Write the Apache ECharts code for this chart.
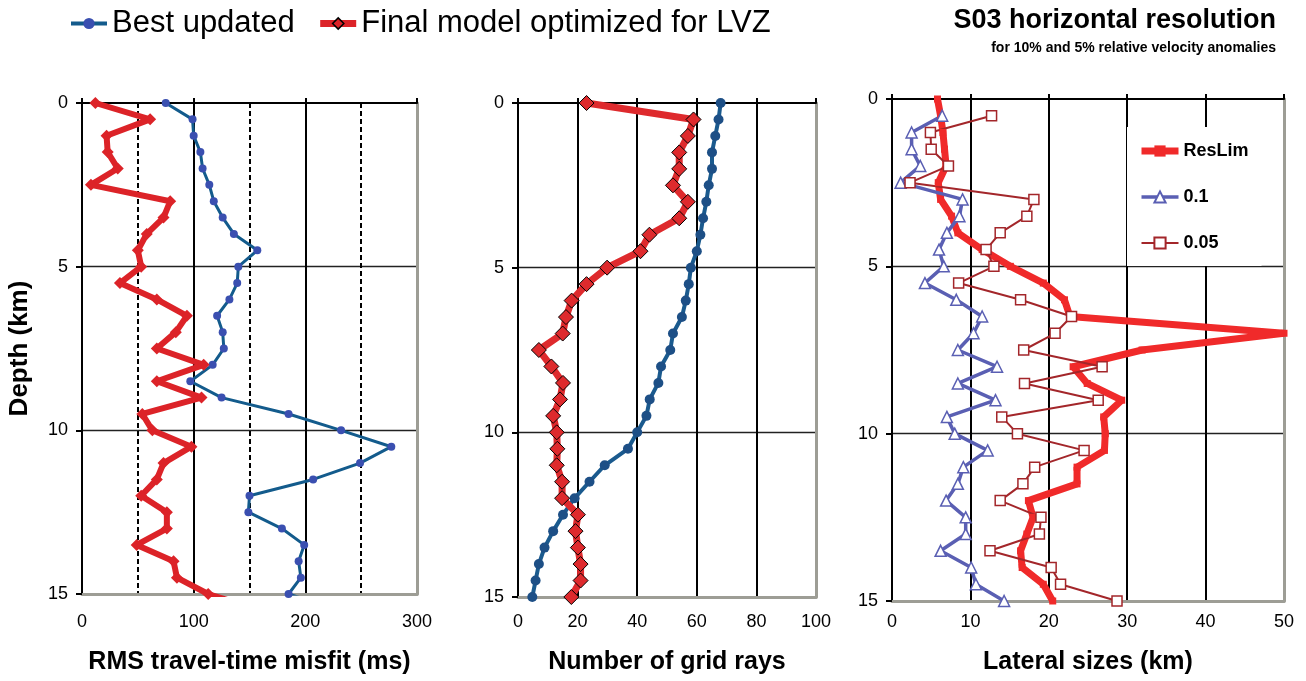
<!DOCTYPE html>
<html><head><meta charset="utf-8">
<script src="https://cdn.jsdelivr.net/npm/echarts@6/dist/echarts.min.js"></script>
<style>html,body{margin:0;padding:0;background:#fff}#c{width:1306px;height:681px}</style>
</head><body><div id="c"></div>
<script>
// ---------- data ----------
const depthKm = [0,0.5,1,1.5,2,2.5,3,3.5,4,4.5,5,5.5,6,6.5,7,7.5,8,8.5,9,9.5,10,10.5,11,11.5,12,12.5,13,13.5,14,14.5,15];
const depthKmRes = [0.5,1,1.5,2,2.5,3,3.5,4,4.5,5,5.5,6,6.5,7,7.5,8,8.5,9,9.5,10,10.5,11,11.5,12,12.5,13,13.5,14,14.5,15];
// points just below the axis bottom (clipped), panel 1
const tailDepth = 15.5;
const rmsBestTail = 230;
const rmsFinalTail = 160;

const rmsBest  = [75,99,100,106,108,114,118,126,136,157,140,139,132,121,126,127,117,97,125,185,232,277,249,207,150,149,179,199,194,196,185];
const rmsFinal = [12,61,22,23,32,8,79,73,58,50,53,34,67,94,84,67,109,67,107,54,63,98,73,67,53,76,76,49,82,85,113];

const raysBest  = [68,67.3,66.2,65.1,65.1,64,63.2,62.1,61.2,60,58,57.3,56.3,55,52,51.1,48,47.1,44.2,43.1,40,36.9,29.1,24,19,15.1,11.8,8.9,7,5.9,4.8];
const raysFinal = [23,58.9,57,54.1,54.1,52,57,54.1,44.1,41.1,29.9,23,18,16.1,15,7,11.2,15.1,14.1,11.8,13,13.2,13,14.8,14.8,20.1,19.3,20.1,21,21,17.9];

const resLim = [5.8,6.2,6.5,6.7,6.9,5.9,6.2,7.6,8.4,11.5,15.1,19.3,22,22.7,50,31.9,23.1,24.9,29.3,27,27.2,27.1,23.6,23.6,17.4,18,17.2,16.4,16.6,19.3,20.5];
const res01  = [6.4,2.5,2.5,3.6,1.1,9,8.6,7,6,6.6,4.2,8.2,11.5,10.4,8.4,13.4,8.4,13.2,7,8,12.2,9.1,8.4,6.9,9.4,9.4,6.2,10.1,10.7,14.3];
const res005 = [12.7,4.9,5,7.2,2.3,18.1,17.2,13.8,12,13,8.5,16.4,22.9,20.8,16.8,26.8,16.9,26.3,14,16,24.5,18.2,16.7,13.8,19,18.8,12.5,20.3,21.5,28.7];

const xTicksRms = [0,300,100];
const xTicksRays = [0,100,20];
const xTicksLat = [0,50,10];
const yTicksDepth = [0,15,5];

const legendTop = ['Best updated','Final model optimized for LVZ'];
const legendRes = ['ResLim','0.1','0.05'];
const axisTitles = ['RMS travel-time misfit (ms)','Number of grid rays','Lateral sizes (km)','Depth (km)'];
const titleText = 'S03 horizontal resolution';
const subtitleText = 'for 10% and 5% relative velocity anomalies';

// ---------- helpers ----------
const FONT = "'Liberation Sans', Arial, sans-serif";
const pairs = (xs, ds) => ds.map((d, i) => [xs[i], d]);
const GREY = '#9d9d95';

function topAxis(grid, t) {
  return {
    type: 'value', gridIndex: grid, position: 'top', min: t[0], max: t[1], interval: t[2],
    axisLine: { show: true, onZero: false, lineStyle: { color: '#000', width: 2 } },
    axisTick: { show: true, length: 5, lineStyle: { color: '#000', width: 2 } },
    axisLabel: { show: false },
    splitLine: { show: true, showMinLine: false, showMaxLine: false,
      lineStyle: { color: '#000', width: 2 } }
  };
}
function dashAxis(grid, min, max, interval) {
  return {
    type: 'value', gridIndex: grid, position: 'top', min: min, max: max, interval: interval,
    axisLine: { show: false, onZero: false }, axisTick: { show: false }, axisLabel: { show: false },
    splitLine: { show: true, showMinLine: false, showMaxLine: false,
      lineStyle: { color: '#000', width: 2, type: [5, 3] } }
  };
}
function bottomAxis(grid, t, name, margin, gap) {
  return {
    type: 'value', gridIndex: grid, position: 'bottom', min: t[0], max: t[1], interval: t[2],
    axisLine: { show: true, onZero: false, lineStyle: { color: GREY, width: 3 } },
    axisTick: { show: false },
    axisLabel: { show: true, margin: margin, color: '#000', fontSize: 18, fontFamily: FONT },
    splitLine: { show: false },
    name: name, nameLocation: 'middle', nameGap: gap,
    nameTextStyle: { color: '#000', fontSize: 25, fontWeight: 'bold', fontFamily: FONT }
  };
}
function leftAxis(grid, name) {
  const a = {
    type: 'value', gridIndex: grid, position: 'left', inverse: true,
    min: yTicksDepth[0], max: yTicksDepth[1], interval: yTicksDepth[2],
    axisLine: { show: true, onZero: false, lineStyle: { color: '#000', width: 2 } },
    axisTick: { show: true, length: 6, lineStyle: { color: '#000', width: 2 } },
    axisLabel: { show: true, margin: 14, color: '#000', fontSize: 18, fontFamily: FONT },
    splitLine: { show: true, showMinLine: false, showMaxLine: false,
      lineStyle: { color: '#222', width: 1.3 } }
  };
  if (name) {
    a.name = name; a.nameLocation = 'middle'; a.nameGap = 49;
    a.nameTextStyle = { color: '#000', fontSize: 26, fontWeight: 'bold', fontFamily: FONT };
  }
  return a;
}
function rightAxis(grid) {
  return {
    type: 'value', gridIndex: grid, position: 'right', inverse: true,
    min: yTicksDepth[0], max: yTicksDepth[1], interval: yTicksDepth[2],
    axisLine: { show: true, onZero: false, lineStyle: { color: GREY, width: 3 } },
    axisTick: { show: false }, axisLabel: { show: false }, splitLine: { show: false }
  };
}

const chart = echarts.init(document.getElementById('c'), null, { renderer: 'canvas' });
chart.setOption({
  animation: false,
  backgroundColor: '#fff',
  textStyle: { fontFamily: FONT },
  title: {
    text: titleText, subtext: subtitleText, left: 1276, top: 7, itemGap: 7,
    textAlign: 'right', padding: 0,
    textStyle: { color: '#000', fontSize: 27, fontWeight: 'bold', fontFamily: FONT },
    subtextStyle: { color: '#000', fontSize: 14, fontWeight: 'bold', fontFamily: FONT }
  },
  legend: [
    {
      data: [
        { name: legendTop[0], lineStyle: { width: 4, color: '#135b8c' } },
        { name: legendTop[1], lineStyle: { width: 7, color: '#dc2328' },
          itemStyle: { borderColor: '#000', borderWidth: 1.5 } }
      ],
      left: 69, top: 8, padding: 0, itemWidth: 36, itemHeight: 14, itemGap: 22,
      textStyle: { color: '#000', fontSize: 31, fontFamily: FONT }
    },
    {
      data: [
        { name: legendRes[0], lineStyle: { width: 7 } },
        { name: legendRes[1], lineStyle: { width: 3.5 } },
        { name: legendRes[2], lineStyle: { width: 2 } }
      ],
      orient: 'vertical', left: 1127, top: 127,
      padding: [15, 13, 14, 11], itemGap: 28, itemWidth: 37, itemHeight: 14,
      backgroundColor: '#fff',
      textStyle: { color: '#000', fontSize: 18, fontWeight: 'bold', fontFamily: FONT }
    }
  ],
  grid: [
    { left: 82, top: 103, width: 335, height: 491, outerBoundsMode: 'none', containLabel: false },
    { left: 518, top: 103, width: 298, height: 494, outerBoundsMode: 'none', containLabel: false },
    { left: 892, top: 99, width: 392, height: 502, outerBoundsMode: 'none', containLabel: false }
  ],
  xAxis: [
    topAxis(0, xTicksRms),
    bottomAxis(0, xTicksRms, axisTitles[0], 19, 56),
    dashAxis(0, xTicksRms[0], xTicksRms[1], xTicksRms[2] / 2),
    topAxis(1, xTicksRays),
    bottomAxis(1, xTicksRays, axisTitles[1], 16, 53),
    topAxis(2, xTicksLat),
    bottomAxis(2, xTicksLat, axisTitles[2], 12, 49)
  ],
  yAxis: [
    leftAxis(0, axisTitles[3]), rightAxis(0),
    leftAxis(1), rightAxis(1),
    leftAxis(2), rightAxis(2)
  ],
  series: [
    {
      name: legendTop[0], type: 'line', xAxisIndex: 0, yAxisIndex: 0,
      data: pairs(rmsBest, depthKm).concat([[rmsBestTail, tailDepth]]),
      lineStyle: { color: '#135b8c', width: 3 },
      symbol: 'circle', symbolSize: 8,
      itemStyle: { color: '#3a4fb0' }
    },
    {
      name: legendTop[1], type: 'line', xAxisIndex: 0, yAxisIndex: 0,
      data: pairs(rmsFinal, depthKm).concat([[rmsFinalTail, tailDepth]]),
      lineStyle: { color: '#dc2328', width: 6 },
      symbol: 'diamond', symbolSize: 12,
      itemStyle: { color: '#dc2328' }
    },
    {
      name: legendTop[0], type: 'line', xAxisIndex: 3, yAxisIndex: 2,
      data: pairs(raysBest, depthKm),
      lineStyle: { color: '#1a5a8e', width: 4 },
      symbol: 'circle', symbolSize: 10,
      itemStyle: { color: '#1d4f86' }
    },
    {
      name: legendTop[1], type: 'line', xAxisIndex: 3, yAxisIndex: 2,
      data: pairs(raysFinal, depthKm),
      lineStyle: { color: '#de2a2d', width: 7 },
      symbol: 'diamond', symbolSize: 15,
      itemStyle: { color: '#de2a2d', borderColor: '#000', borderWidth: 1 }
    },
    {
      name: legendRes[0], type: 'line', xAxisIndex: 5, yAxisIndex: 4,
      data: pairs(resLim, depthKm),
      lineStyle: { color: '#f02a2a', width: 7 },
      symbol: 'rect', symbolSize: 7,
      itemStyle: { color: '#f02a2a' }
    },
    {
      name: legendRes[1], type: 'line', xAxisIndex: 5, yAxisIndex: 4,
      data: pairs(res01, depthKmRes),
      lineStyle: { color: '#5a5fb3', width: 3.5 },
      symbol: 'triangle', symbolSize: 11,
      itemStyle: { color: '#fff', borderColor: '#5a5fb3', borderWidth: 1.5 }
    },
    {
      name: legendRes[2], type: 'line', xAxisIndex: 5, yAxisIndex: 4,
      data: pairs(res005, depthKmRes),
      lineStyle: { color: '#a3262a', width: 2 },
      symbol: 'rect', symbolSize: 10,
      itemStyle: { color: '#fff', borderColor: '#a3262a', borderWidth: 1.5 }
    }
  ]
});
</script>
</body></html>
